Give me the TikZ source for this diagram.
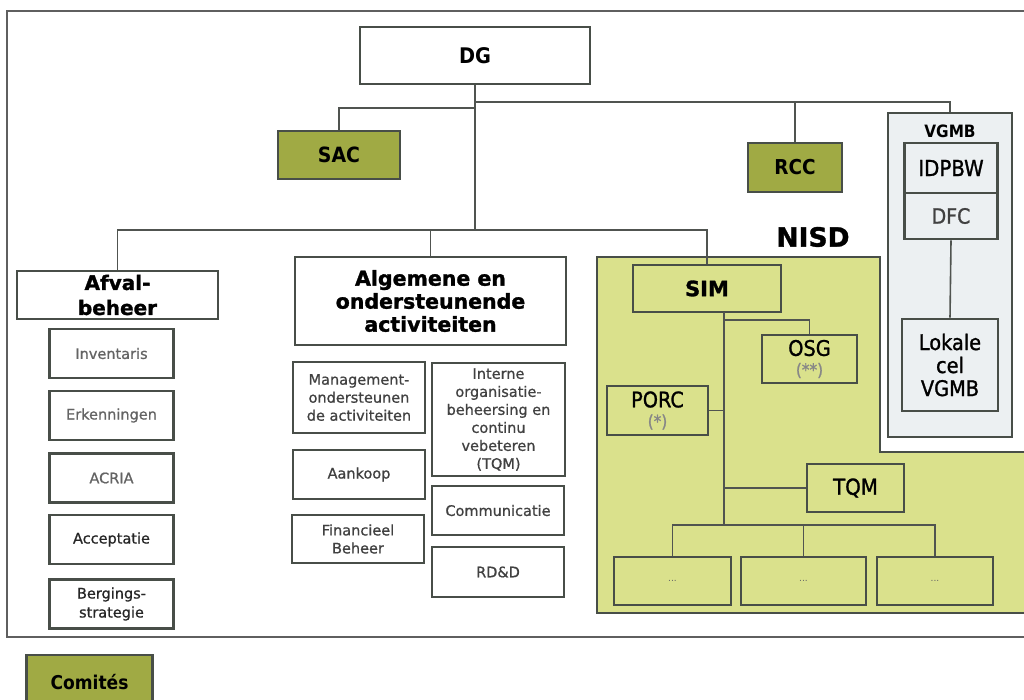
\documentclass[tikz,border=0pt]{standalone}
\usepackage{fontspec}
\setmainfont{DejaVu Sans}
\newfontfamily\condf{DejaVu Sans Condensed}[BoldFont={DejaVu Sans Condensed Bold}]
\newfontfamily\condm{DejaVu Sans Condensed}[FakeBold=1.2]
\newfontfamily\vmed{DejaVu Sans}[FakeBold=0.8]
\newfontfamily\vheavy{DejaVu Sans Bold}[FakeBold=1.4]
\definecolor{olivec}{RGB}{160,170,68}
\definecolor{nisdc}{RGB}{218,225,140}
\definecolor{vgc}{RGB}{236,240,242}
\definecolor{boxc}{RGB}{72,78,72}
\definecolor{linec}{RGB}{80,84,80}
\definecolor{framec}{RGB}{95,95,95}
\definecolor{greyt}{RGB}{100,100,100}
\definecolor{midt}{RGB}{65,65,65}
\definecolor{lightt}{RGB}{135,135,135}
\newcommand\fCB[1]{\condf\bfseries\fontsize{#1}{#1}\selectfont}
\newcommand\fCR[2]{\condm\fontsize{#1}{#2}\selectfont}
\newcommand\fVB[2]{\vheavy\fontsize{#1}{#2}\selectfont}
\newcommand\fVR{\vmed\fontsize{14.5}{18}\selectfont}
\tikzset{
  frame/.style={draw=framec, line width=1.7pt},
  box/.style={draw=boxc, line width=2.6pt, inner sep=0pt, align=center, fill=white, text=black},
  greenbox/.style={box, fill=olivec},
  nbox/.style={box, fill=nisdc},
  vbox/.style={box, fill=vgc},
  subbox/.style={box, minimum width=124, minimum height=49, font=\fVR},
  midbox/.style={box, minimum width=132, font=\fVR, text=midt},
  conn/.style={draw=linec, line width=1.6pt},
  dots/.style={nbox, minimum width=117, minimum height=48, font=\fontsize{9}{9}\selectfont, text=greyt}
}
\begin{document}
\begin{tikzpicture}[x=1pt,y=-1pt]
\useasboundingbox (0,0) rectangle (1024,700);
\clip (0,0) rectangle (1024,700);
\fill[white] (0,0) rectangle (1024,700);
% outer frame
\draw[frame] (7,11) rectangle (1040,637);
% NISD region
\draw[fill=nisdc, draw=boxc, line width=2pt] (597,257) -- (880,257) -- (880,452) -- (1040,452) -- (1040,613) -- (597,613) -- cycle;
\node[font=\fVB{26.5}{30}] (nisd) at (813,237) {NISD};
% VGMB region
\node[vbox, minimum width=124, minimum height=324] (vgmb) at (950,275) {};
\node[font=\fCB{17}] (vgmbl) at (950,131) {VGMB};
\node[vbox, minimum width=93, minimum height=50, font=\fCR{22}{24}] (idpbw) at (951,168) {IDPBW};
\node[vbox, minimum width=93, minimum height=46, font=\fCR{21}{24}, text=midt] (dfc) at (951,216) {DFC};
\node[vbox, minimum width=96, minimum height=92, font=\fCR{21.5}{23}] (lok) at (950,365) {Lokale\\cel\\VGMB};
% top
\node[box, minimum width=230, minimum height=57, font=\fCB{21.5}] (dg) at (475,55.5) {DG};
\node[greenbox, minimum width=122, minimum height=48, font=\fCB{21}] (sac) at (339,155) {SAC};
\node[greenbox, minimum width=94, minimum height=49, font=\fCB{20.5}] (rcc) at (795,167.5) {RCC};
% Afvalbeheer
\node[box, minimum width=201, minimum height=48, font=\fVB{20}{25}] (afval) at (117.5,295) {Afval-\\beheer};
\node[subbox, text=greyt] (inv) at (111.5,353.5) {Inventaris};
\node[subbox, text=greyt] (erk) at (111.5,415.5) {Erkenningen};
\node[subbox, text=greyt] (acria) at (111.5,478) {ACRIA};
\node[subbox, text=black!85] (acc) at (111.5,539.5) {Acceptatie};
\node[subbox, text=black!85, font=\vmed\fontsize{14.5}{19}\selectfont] (berg) at (111.5,604) {Bergings-\\strategie};
% Algemene
\node[box, minimum width=271, minimum height=88, font=\fVB{20.5}{23}] (alg) at (430.5,301) {Algemene en\\ondersteunende\\activiteiten};
\node[midbox, minimum height=71] (man) at (359,397.5) {Management-\\ondersteunen\\de activiteiten};
\node[midbox, minimum width=133, minimum height=113] (int) at (498.5,419.5) {Interne\\organisatie-\\beheersing en\\continu\\vebeteren\\(TQM)};
\node[midbox, minimum height=49] (aank) at (359,474.5) {Aankoop};
\node[midbox, minimum height=48] (fin) at (358,539) {Financieel\\Beheer};
\node[midbox, minimum height=49] (comm) at (498,510.5) {Communicatie};
\node[midbox, minimum height=50] (rdd) at (498,572) {RD\&D};
% NISD boxes
\node[nbox, minimum width=148, minimum height=47, font=\fVB{21}{21}] (sim) at (707,288.5) {SIM};
\node[nbox, minimum width=95, minimum height=48, font=\fCR{21.5}{20}] (osg) at (809.5,359) {OSG\\{\fCR{17}{17}\color{lightt}(**)}};
\node[nbox, minimum width=101, minimum height=49, font=\fCR{21.5}{20}] (porc) at (657.5,410.5) {PORC\\{\fCR{17}{17}\color{lightt}(*)}};
\node[nbox, minimum width=97, minimum height=48, font=\fCR{22}{22}] (tqm) at (855.5,488) {TQM};
\node[dots] (d1) at (672.5,581) {...};
\node[dots, minimum width=125] (d2) at (803.5,581) {...};
\node[dots, minimum width=116] (d3) at (935,581) {...};
% legend
\node[greenbox, minimum width=126, minimum height=54, font=\fCB{19}] (com) at (89.5,682) {Comités};
% connectors
\coordinate (j1) at (475,102);
\coordinate (j2) at (475,108);
\coordinate (j3) at (475,230);
\draw[conn] (dg.south) -- (j3);
\draw[conn] (j1) -| (vgmb.north);
\draw[conn] (rcc.north |- j1) -- (rcc.north);
\draw[conn] (j2) -| (sac.north);
\draw[conn] (afval.north) |- (sim.north |- j3) -- (sim.north);
\draw[conn] (alg.north |- j3) -- (alg.north);
\draw[conn] (dfc.south) -- (lok.north);
\coordinate (t0) at (724,312);
\coordinate (t1) at (724,525);
\coordinate (t2) at (724,320);
\draw[conn] (t0) -- (t1);
\draw[conn] (t2) -| (osg.north);
\draw[conn] (porc.east) -- (porc.east -| t0);
\draw[conn] (tqm.west) -- (tqm.west -| t0);
\draw[conn] (d1.north) |- (d3.north |- t1) -- (d3.north);
\draw[conn] (d2.north |- t1) -- (d2.north);
\end{tikzpicture}
\end{document}
